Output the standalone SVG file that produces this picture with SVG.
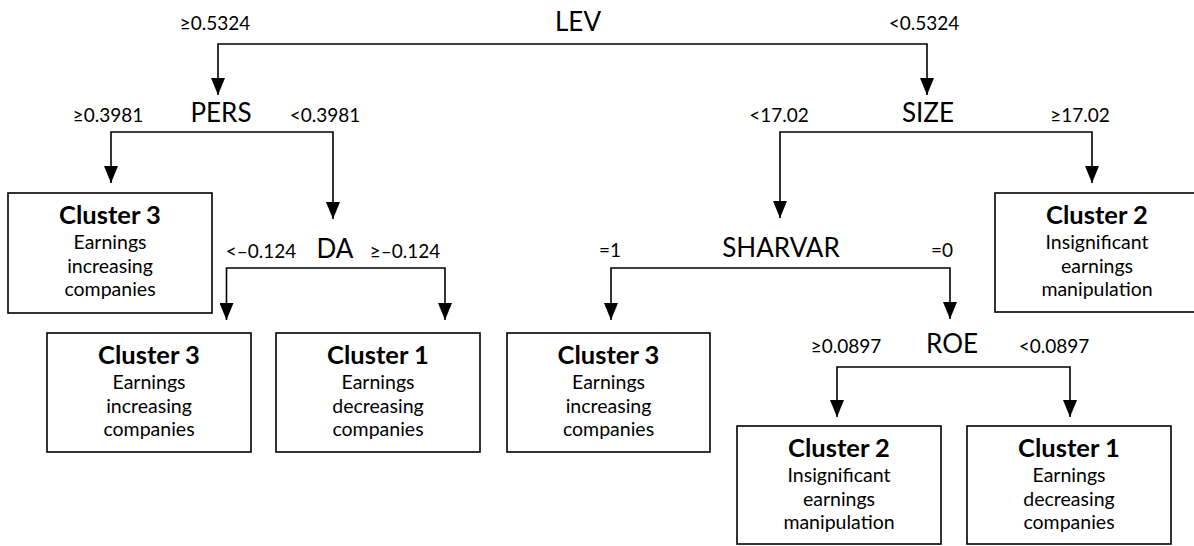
<svg xmlns="http://www.w3.org/2000/svg" width="1194" height="546" viewBox="0 0 1194 546">
<style>
text{font-family:Lato,"Open Sans",sans-serif;fill:#000;text-anchor:middle}
.h{font-size:26px}
.t{font-size:19px}
.b{font-size:25.5px;font-weight:bold}
.r{font-size:19.5px}
.box{fill:#fff;stroke:#000;stroke-width:1.6}
.c{fill:none;stroke:#000;stroke-width:1.6}
</style>
<defs>
<marker id="ah" viewBox="0 0 17 14" refX="17" refY="7" markerWidth="17" markerHeight="14" markerUnits="userSpaceOnUse" orient="auto">
<path d="M0,0 L17,7 L0,14 z" fill="#000"/>
</marker>
</defs>
<rect width="1194" height="546" fill="#fff"/>
<g id="connectors">
<path class="c" d="M578,44 H218 V95" marker-end="url(#ah)"/>
<path class="c" d="M578,44 H927 V95" marker-end="url(#ah)"/>
<path class="c" d="M221,132 H111 V183" marker-end="url(#ah)"/>
<path class="c" d="M221,132 H333 V219" marker-end="url(#ah)"/>
<path class="c" d="M928,132 H780 V218" marker-end="url(#ah)"/>
<path class="c" d="M928,132 H1092 V183" marker-end="url(#ah)"/>
<path class="c" d="M335,268 H226.5 V320" marker-end="url(#ah)"/>
<path class="c" d="M335,268 H445 V320" marker-end="url(#ah)"/>
<path class="c" d="M781,268 H611 V320" marker-end="url(#ah)"/>
<path class="c" d="M781,268 H950 V319" marker-end="url(#ah)"/>
<path class="c" d="M952,367 H837 V417" marker-end="url(#ah)"/>
<path class="c" d="M952,367 H1070 V417" marker-end="url(#ah)"/>
</g>
<g id="lev">
<text class="h" x="578" y="31">LEV</text>
<text class="t" x="215" y="30">≥0.5324</text>
<text class="t" x="924" y="30">&lt;0.5324</text>
</g>
<g id="pers">
<text class="h" x="221" y="122">PERS</text>
<text class="t" x="108" y="122">≥0.3981</text>
<text class="t" x="325" y="122">&lt;0.3981</text>
</g>
<g id="size">
<text class="h" x="928" y="122">SIZE</text>
<text class="t" x="779" y="122">&lt;17.02</text>
<text class="t" x="1080" y="122">≥17.02</text>
</g>
<g id="da">
<text class="h" x="335" y="258">DA</text>
<text class="t" x="261" y="258">&lt;–0.124</text>
<text class="t" x="405" y="258">≥–0.124</text>
</g>
<g id="sharvar">
<text class="h" x="781" y="257">SHARVAR</text>
<text class="t" x="610" y="257">=1</text>
<text class="t" x="942" y="257">=0</text>
</g>
<g id="roe">
<text class="h" x="952" y="353">ROE</text>
<text class="t" x="846" y="353">≥0.0897</text>
<text class="t" x="1054" y="353">&lt;0.0897</text>
</g>
<g id="c3a">
<rect class="box" x="8" y="193" width="204" height="120"/>
<text class="b" x="110" y="224">Cluster 3</text>
<text class="r" x="110" y="249">Earnings</text>
<text class="r" x="110" y="272.5">increasing</text>
<text class="r" x="110" y="296">companies</text>
</g>
<g id="c2a">
<rect class="box" x="995" y="193" width="204" height="119"/>
<text class="b" x="1097" y="224">Cluster 2</text>
<text class="r" x="1097" y="249">Insignificant</text>
<text class="r" x="1097" y="272.5">earnings</text>
<text class="r" x="1097" y="296">manipulation</text>
</g>
<g id="c3b">
<rect class="box" x="47" y="333" width="204" height="119"/>
<text class="b" x="149" y="364">Cluster 3</text>
<text class="r" x="149" y="389">Earnings</text>
<text class="r" x="149" y="412.5">increasing</text>
<text class="r" x="149" y="436">companies</text>
</g>
<g id="c1a">
<rect class="box" x="276" y="333" width="204" height="119"/>
<text class="b" x="378" y="364">Cluster 1</text>
<text class="r" x="378" y="389">Earnings</text>
<text class="r" x="378" y="412.5">decreasing</text>
<text class="r" x="378" y="436">companies</text>
</g>
<g id="c3c">
<rect class="box" x="507" y="333" width="203" height="119"/>
<text class="b" x="608.5" y="364">Cluster 3</text>
<text class="r" x="608.5" y="389">Earnings</text>
<text class="r" x="608.5" y="412.5">increasing</text>
<text class="r" x="608.5" y="436">companies</text>
</g>
<g id="c2b">
<rect class="box" x="737" y="426" width="204" height="118"/>
<text class="b" x="839" y="457">Cluster 2</text>
<text class="r" x="839" y="482">Insignificant</text>
<text class="r" x="839" y="505.5">earnings</text>
<text class="r" x="839" y="529">manipulation</text>
</g>
<g id="c1b">
<rect class="box" x="967" y="426" width="204" height="118"/>
<text class="b" x="1069" y="457">Cluster 1</text>
<text class="r" x="1069" y="482">Earnings</text>
<text class="r" x="1069" y="505.5">decreasing</text>
<text class="r" x="1069" y="529">companies</text>
</g>
</svg>
